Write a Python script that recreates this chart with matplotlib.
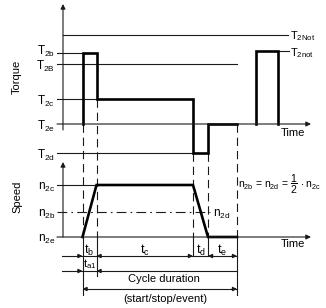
import matplotlib.pyplot as plt

plt.rcParams['font.family'] = ['Liberation Sans', 'DejaVu Sans']
plt.rcParams['mathtext.fontset'] = 'custom'
plt.rcParams['mathtext.rm'] = 'Liberation Sans'
plt.rcParams['mathtext.it'] = 'Liberation Sans'
plt.rcParams['mathtext.default'] = 'regular'
plt.rcParams['lines.scale_dashes'] = False

# time marks: start, end of t_b, t_c, t_d, t_e
t_marks = [82.5, 96.5, 193, 208, 237]
# second torque pulse (T2not)
pulse_t = [255.5, 278]

# torque levels (drawing units, counted downwards)
torque_names = ['T$_{2b}$', 'T$_{2B}$', 'T$_{2c}$', 'T$_{2e}$', 'T$_{2d}$']
torque_levels = [52.5, 63.5, 99, 124, 153]
T2b, T2B, T2c, T2e, T2d = torque_levels
T2Not, T2not = 35, 50.5

# speed levels
speed_names = ['n$_{2c}$', 'n$_{2b}$', 'n$_{2e}$']
speed_levels = [185, 212, 237]
n2c, n2b, n2e = speed_levels

# segment labels
seg_labels = ['t$_b$', 't$_c$', 't$_d$', 't$_e$']

col = '#1a1a1a'
thin = 0.8
thick = 1.9
dash = (0, (6, 3.5))

fig = plt.figure(figsize=(3.26, 3.08), dpi=100)
ax = fig.add_axes([0, 0, 1, 1])
ax.set_xlim(0, 326)
ax.set_ylim(308, 0)
ax.axis('off')

t0, t1, t2, t3, t4 = t_marks
x_axis = 63
x_left = 57


def arrow(x0, y0, x1, y1, ms=7):
    ax.annotate('', xy=(x1, y1), xytext=(x0, y0),
                arrowprops=dict(arrowstyle='-|>', color=col, lw=thin,
                                mutation_scale=ms, shrinkA=0, shrinkB=0))


def head(x, y, d):
    arrow(x - 5 * d, y, x, y, ms=6)


# axes with arrows
arrow(x_axis, 130, x_axis, 4)
arrow(x_left, T2e, 311, T2e)
arrow(x_axis, n2e, x_axis, 162)
arrow(x_left, n2e, 311, n2e)

# thin reference lines, torque
ax.plot([x_axis, 288], [T2Not, T2Not], color=col, lw=thin)
ax.plot([x_left, t0], [T2b, T2b], color=col, lw=thin)
ax.plot([x_left, t4], [T2B, T2B], color=col, lw=thin)
ax.plot([x_left, t1], [T2c, T2c], color=col, lw=thin)
ax.plot([x_left, t2], [T2d, T2d], color=col, lw=thin)
ax.plot([pulse_t[1], 289], [T2not, T2not], color=col, lw=thin)

# thin reference lines, speed
ax.plot([x_left, t1], [n2c, n2c], color=col, lw=thin)
ax.plot([x_left, 210], [n2b, n2b], color=col, lw=thin,
        linestyle=(0, (7, 3, 1.2, 3)))

# dashed / solid verticals
v_top = [T2e, T2c, T2d, T2d, T2e]
v_bottom = [295, 276, 256, 256, 295]
for x, yt, yb in zip(t_marks, v_top, v_bottom):
    ax.plot([x, x], [yt, n2e], color=col, lw=thin, linestyle=dash)
    ax.plot([x, x], [n2e, yb], color=col, lw=thin)

# torque profile
ax.plot([t0, t0, t1, t1, t2, t2, t3, t3, t4],
        [T2e, T2b, T2b, T2c, T2c, T2d, T2d, T2e, T2e],
        color='black', lw=thick, solid_joinstyle='miter')
ax.plot([pulse_t[0], pulse_t[0], pulse_t[1], pulse_t[1]],
        [T2e, T2not, T2not, T2e], color='black', lw=thick,
        solid_joinstyle='miter')

# speed profile
ax.plot([t0, t1, t2, t3, t4], [n2e, n2c, n2c, n2e, n2e],
        color='black', lw=thick, solid_joinstyle='miter')

# dimension rows
row1, row2, row3 = 256, 271, 289
ax.plot([62, t4], [row1, row1], color=col, lw=thin)
for x, d in zip(t_marks, [1, -1, 1, -1, 1]):
    head(x, row1, d)
ax.plot([62, t4], [row2, row2], color=col, lw=thin)
head(t0, row2, 1)
head(t1, row2, -1)
ax.plot([t0, t4], [row3, row3], color=col, lw=thin)
head(t0, row3, -1)
head(t4, row3, 1)

# labels
label_shift = [-1, 3, 2, 2, 2]
for name, y, s in zip(torque_names, torque_levels, label_shift):
    ax.text(55, y + s, name, ha='right', va='center', fontsize=8.5)
for name, y in zip(speed_names, speed_levels):
    ax.text(55, y + 2, name, ha='right', va='center', fontsize=8.5)
ax.text(290, T2Not + 1.5, 'T$_{2Not}$', ha='left', va='center', fontsize=8)
ax.text(290, T2not + 2.5, 'T$_{2not}$', ha='left', va='center', fontsize=8)
ax.text(17, 77, 'Torque', rotation=90, ha='center', va='center', fontsize=8)
ax.text(17, 197, 'Speed', rotation=90, ha='center', va='center', fontsize=8)
ax.text(293, 133, 'Time', ha='center', va='center', fontsize=8)
ax.text(293, 244, 'Time', ha='center', va='center', fontsize=8)

seg_x = [(t0 + t1) / 2, (t1 + t2) / 2, (t2 + t3) / 2, (t3 + t4) / 2]
for name, x in zip(seg_labels, seg_x):
    ax.text(x, 250, name, ha='center', va='center', fontsize=9)
ax.text((t0 + t1) / 2, 264.5, 't$_{a1}$', ha='center', va='center', fontsize=8)
ax.text(222, n2b + 2, 'n$_{2d}$', ha='center', va='center', fontsize=8.5)
ax.text(238, 184, r'n$_{2b}$ = n$_{2d}$ = $\dfrac{1}{2}$ $\cdot$ n$_{2c}$',
        ha='left', va='center', fontsize=7.5)
ax.text(164, 279, 'Cycle duration', ha='center', va='center', fontsize=8)
ax.text(165, 299, '(start/stop/event)', ha='center', va='center', fontsize=8)

fig.savefig('out.png', dpi=100)
